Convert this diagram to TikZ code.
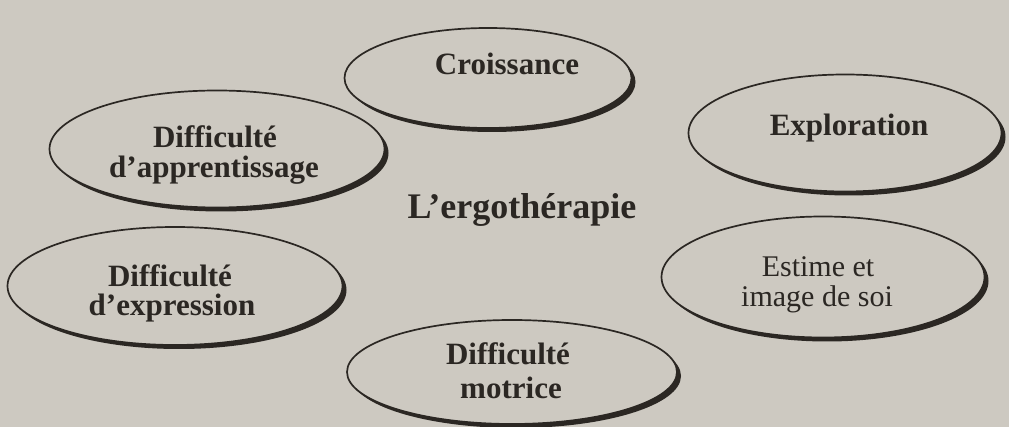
\documentclass[tikz,border=0pt]{standalone}
\usepackage{fontspec}
\setmainfont{Liberation Serif}
\usetikzlibrary{shapes.geometric,shadows}
\definecolor{paper}{HTML}{CDC9C1}
\definecolor{ink}{HTML}{2B2723}
\tikzset{
  bubble/.style={ellipse, draw=ink, line width=1.7pt, fill=paper, inner sep=0pt,
    drop shadow={shadow xshift=4pt, shadow yshift=-4pt, fill=ink, opacity=1}},
  lbl/.style={anchor=base, inner sep=0pt, text=ink, font=\fontsize{31}{33}\selectfont\bfseries},
  lblreg/.style={anchor=base, inner sep=0pt, text=ink, font=\fontsize{30}{33}\selectfont},
  title/.style={anchor=base, inner sep=0pt, text=ink, font=\fontsize{36}{40}\selectfont\bfseries}
}
\begin{document}
\begin{tikzpicture}[x=1pt,y=-1pt]
\fill[paper] (0,0) rectangle (1009,427);
\useasboundingbox (0,0) rectangle (1009,427);
% ellipses
\node[bubble, minimum width=287pt, minimum height=100pt] (croissance) at (488,78) {};
\node[bubble, minimum width=313pt, minimum height=117pt] (exploration) at (845,133) {};
\node[bubble, minimum width=335pt, minimum height=117pt] (apprentissage) at (217,149) {};
\node[bubble, minimum width=335pt, minimum height=118pt] (expression) at (175,286) {};
\node[bubble, minimum width=323pt, minimum height=121pt] (estime) at (823,277) {};
\node[bubble, minimum width=330pt, minimum height=104pt] (motrice) at (512,372) {};
% texts
\node[lbl] (tcro) at (507,75) {Croissance};
\node[lbl] (texp) at (849,136) {Exploration};
\node[lbl] (tapa) at (215,148) {Difficulté};
\node[lbl] (tapb) at (214,178) {d’apprentissage};
\node[title] (tcenter) at (522,219) {L’ergothérapie};
\node[lbl] (texa) at (170,287) {Difficulté};
\node[lbl] (texb) at (172,316) {d’expression};
\node[lblreg] (tesa) at (818,277) {Estime et};
\node[lblreg] (tesb) at (817,307) {image de soi};
\node[lbl] (tmoa) at (508,365) {Difficulté};
\node[lbl] (tmob) at (511,398) {motrice};
\end{tikzpicture}
\end{document}
